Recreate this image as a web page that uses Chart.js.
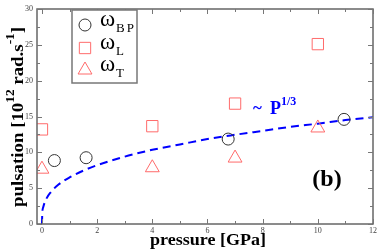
<!DOCTYPE html>
<html>
<head>
<meta charset="utf-8">
<script src="https://cdn.jsdelivr.net/npm/chart.js@4.4.0/dist/chart.umd.min.js"></script>
<style>
  html, body { margin: 0; padding: 0; background: #fff; }
  #wrap { width: 382px; height: 252px; }
</style>
</head>
<body>
<div id="wrap"><canvas id="mycanvas" width="382" height="252"></canvas></div>
<script>
// omega_BP (circles)
var bpP = [0.45, 1.6, 6.75, 10.95];
var bpW = [8.85, 9.25, 11.85, 14.6];
// omega_L (squares)
var lP = [0, 4, 7, 10];
var lW = [13.2, 13.65, 16.8, 25.1];
// omega_T (triangles)
var tP = [0, 4, 7, 10];
var tW = [7.65, 7.85, 9.2, 13.4];
// dashed ~P^1/3 curve
var fitP = [0, 0.01, 0.05, 0.15, 0.3, 0.6, 1, 1.5, 2, 3, 4, 5, 6, 7, 8, 9, 10, 11, 12];
var fitW = [0, 1.4, 2.4, 3.45, 4.35, 5.5, 6.5, 7.45, 8.2, 9.4, 10.35, 11.1, 11.85, 12.45, 13.0, 13.55, 14.0, 14.5, 14.9];

var xTicks = [0, 2, 4, 6, 8, 10, 12];
var xMinor = [1, 3, 5, 7, 9, 11];
var yTicks = [0, 5, 10, 15, 20, 25, 30];
var yMinor = [2.5, 7.5, 12.5, 17.5, 22.5, 27.5];

var legendNames = ['BP', 'L', 'T'];

function pts(xs, ys) {
	var out = [];
	for (var i in xs) out.push({x: xs[i], y: ys[i]});
	return out;
}

var red = '#ff6b6b';
var serif = '"Liberation Serif", "DejaVu Serif", serif';

// draws frame, ticks, labels, legend and annotations
var decor = {
	id: 'decor',
	afterDraw: function(chart) {
		var ctx = chart.ctx;
		var a = chart.chartArea;
		var xs = chart.scales.x, ys = chart.scales.y;
		ctx.save();

		// frame
		ctx.strokeStyle = '#666';
		ctx.lineWidth = 1.5;
		ctx.strokeRect(a.left, a.top, a.right - a.left, a.bottom - a.top);

		// ticks (inside, on all four sides)
		ctx.lineWidth = 1;
		ctx.strokeStyle = '#777';
		function xt(v, len) {
			var px = Math.round(xs.getPixelForValue(v)) + 0.5;
			ctx.beginPath();
			ctx.moveTo(px, a.bottom); ctx.lineTo(px, a.bottom - len);
			ctx.moveTo(px, a.top); ctx.lineTo(px, a.top + len);
			ctx.stroke();
		}
		function yt(v, len) {
			var py = Math.round(ys.getPixelForValue(v)) + 0.5;
			ctx.beginPath();
			ctx.moveTo(a.left, py); ctx.lineTo(a.left + len, py);
			ctx.moveTo(a.right, py); ctx.lineTo(a.right - len, py);
			ctx.stroke();
		}
		xTicks.forEach(function(v){ xt(v, 5); });
		xMinor.forEach(function(v){ xt(v, 3); });
		yTicks.forEach(function(v){ yt(v, 5); });
		yMinor.forEach(function(v){ yt(v, 3); });

		// tick labels
		ctx.fillStyle = '#444';
		ctx.font = '8px ' + serif;
		ctx.textAlign = 'center';
		ctx.textBaseline = 'top';
		xTicks.forEach(function(v){
			ctx.fillText(String(v), xs.getPixelForValue(v), a.bottom + 3);
		});
		ctx.textAlign = 'right';
		ctx.textBaseline = 'middle';
		yTicks.forEach(function(v){
			ctx.fillText(String(v), a.left - 4, ys.getPixelForValue(v));
		});

		// x title
		ctx.fillStyle = '#000';
		ctx.font = 'bold 17px ' + serif;
		ctx.textAlign = 'center';
		ctx.textBaseline = 'alphabetic';
		ctx.save();
		var xtw = ctx.measureText('pressure [GPa]').width;
		ctx.translate(208, 245);
		ctx.scale(116 / xtw, 1);
		ctx.fillText('pressure [GPa]', 0, 0);
		ctx.restore();

		// y title with superscripts
		var parts = [
			{t: 'pulsation [10', sup: false},
			{t: '12', sup: true},
			{t: ' rad.s', sup: false},
			{t: '-1', sup: true},
			{t: ']', sup: false}
		];
		var bigF = 'bold 17px ' + serif, supF = 'bold 12px ' + serif;
		var total = 0;
		parts.forEach(function(p){
			ctx.font = p.sup ? supF : bigF;
			p.w = ctx.measureText(p.t).width;
			total += p.w;
		});
		ctx.save();
		ctx.translate(23, 207);
		ctx.rotate(-Math.PI / 2);
		ctx.scale(180 / total, 1);
		ctx.textAlign = 'left';
		var cx = 0;
		parts.forEach(function(p){
			ctx.font = p.sup ? supF : bigF;
			ctx.fillText(p.t, cx, p.sup ? -9 : 0);
			cx += p.w;
		});
		ctx.restore();

		// legend box
		ctx.strokeStyle = '#777';
		ctx.lineWidth = 1.5;
		ctx.fillStyle = '#fff';
		ctx.fillRect(72, 10, 65, 73);
		ctx.strokeRect(72, 10, 65, 73);
		var styles = chart.data.datasets;
		var rows = [25, 48, 70];
		ctx.textAlign = 'left';
		ctx.textBaseline = 'alphabetic';
		for (var i = 0; i < 3; i++) {
			var ds = styles[i];
			var r = ds.pointRadius, y0 = rows[i], x0 = 85;
			ctx.strokeStyle = ds.borderColor;
			ctx.lineWidth = 1;
			ctx.beginPath();
			if (ds.pointStyle === 'circle') {
				ctx.arc(x0, y0, r, 0, 2 * Math.PI);
			} else if (ds.pointStyle === 'rect') {
				var s = Math.SQRT1_2 * r;
				ctx.rect(x0 - s, y0 - s, 2 * s, 2 * s);
			} else {
				ctx.moveTo(x0, y0 - r);
				ctx.lineTo(x0 + r * 0.866, y0 + r / 2);
				ctx.lineTo(x0 - r * 0.866, y0 + r / 2);
				ctx.closePath();
			}
			ctx.stroke();
			ctx.fillStyle = '#000';
			ctx.font = '23px ' + serif;
			ctx.fillText('\u03c9', 100, y0 + 1);
			ctx.font = '13px ' + serif;
			var sub = legendNames[i];
			var sx = 116;
			for (var k = 0; k < sub.length; k++) {
				ctx.fillText(sub[k], sx, y0 + 7);
				sx += ctx.measureText(sub[k]).width + 2;
			}
		}

		// ~P^1/3 annotation
		ctx.fillStyle = '#0000ff';
		ctx.font = 'bold 17px ' + serif;
		ctx.fillText('~', 253, 113);
		ctx.font = 'bold 18px ' + serif;
		ctx.fillText('P', 270, 114);
		var pw = ctx.measureText('P').width;
		ctx.font = 'bold 12px ' + serif;
		ctx.fillText('1/3', 270 + pw, 105);

		// panel label
		ctx.fillStyle = '#000';
		ctx.font = 'bold 24px ' + serif;
		ctx.textAlign = 'center';
		ctx.fillText('(b)', 327, 186);

		ctx.restore();
	}
};

var ctx = document.getElementById('mycanvas');

var chart = new Chart(ctx, {
	type: 'scatter',
	data: {
		datasets: [
			{
				label: '\u03c9BP',
				data: pts(bpP, bpW),
				pointStyle: 'circle',
				pointRadius: 6,
				borderColor: '#333',
				backgroundColor: 'rgba(0,0,0,0)',
				borderWidth: 1
			},
			{
				label: '\u03c9L',
				data: pts(lP, lW),
				pointStyle: 'rect',
				pointRadius: 8,
				borderColor: red,
				backgroundColor: 'rgba(0,0,0,0)',
				borderWidth: 1
			},
			{
				label: '\u03c9T',
				data: pts(tP, tW),
				pointStyle: 'triangle',
				pointRadius: 8,
				borderColor: red,
				backgroundColor: 'rgba(0,0,0,0)',
				borderWidth: 1
			},
			{
				label: 'fit',
				type: 'line',
				data: pts(fitP, fitW),
				borderColor: '#0000ff',
				borderWidth: 2,
				borderDash: [8, 5],
				pointRadius: 0,
				cubicInterpolationMode: 'monotone',
				fill: false
			}
		]
	},
	options: {
		responsive: false,
		animation: false,
		devicePixelRatio: 1,
		layout: { padding: { left: 37, right: 5, top: 3, bottom: 28 } },
		plugins: {
			legend: { display: false },
			tooltip: { enabled: false }
		},
		scales: {
			x: { type: 'linear', min: -0.18, max: 12, display: false },
			y: { type: 'linear', min: 0, max: 30, display: false }
		}
	},
	plugins: [decor]
});
</script>
</body>
</html>
